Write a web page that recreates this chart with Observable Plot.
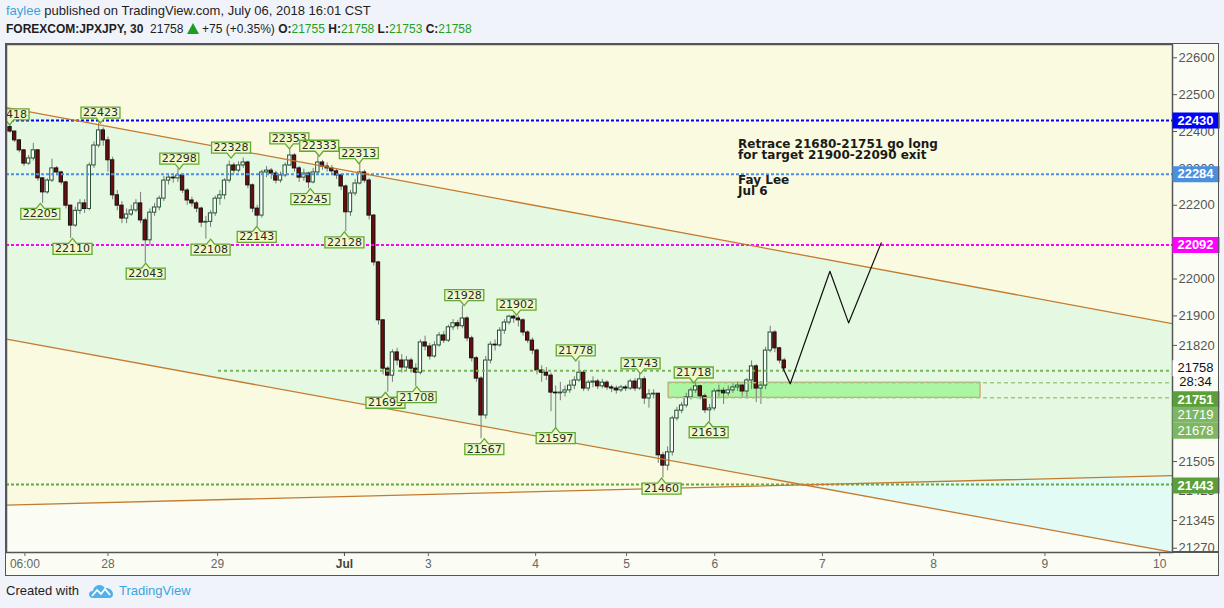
<!DOCTYPE html>
<html>
<head>
<meta charset="utf-8">
<script src="https://cdn.jsdelivr.net/npm/d3@7"></script>
<script src="https://cdn.jsdelivr.net/npm/@observablehq/plot@0.6"></script>
<style>
html,body{margin:0;padding:0}
body{width:1224px;height:608px;background:#f0f3fa;position:relative;overflow:hidden;font-family:"Liberation Sans",Arial,sans-serif;color:#1e1e1e}
.hdr{position:absolute;left:6px;white-space:nowrap;font-size:13px;line-height:16px}
#hdr1{top:3px}
#hdr2{top:21px;font-size:12px}
.user{color:#3ca3df}
.g{color:#22a022}
#chart{position:absolute;left:5px;top:43px}
#box{position:absolute;left:5px;top:43px;width:1214px;height:533px;border:1.5px solid #555;box-sizing:border-box;pointer-events:none}
#ext{position:absolute;left:1172px;top:551px;width:46px;height:1.5px;background:#555}
#footer{position:absolute;left:6px;top:583px;font-size:13px;line-height:16px;white-space:nowrap;display:flex;align-items:center}
#footer .tv{color:#3aa5e0}
</style>
</head>
<body>
<div id="hdr1" class="hdr"></div>
<div id="hdr2" class="hdr"></div>
<div id="chart"></div>
<div id="box"></div>
<div id="ext"></div>
<div id="footer"><span>Created with</span>
<svg width="24" height="15" viewBox="0 0 24 15" style="margin:0 6px 0 10px"><path d="M4 14 C1 14 0 12 0 10 C0 8 2 6.5 4 7 C4.5 3.5 7 1 10.5 1 C13 1 15 2.5 16 4.5 C17 4 18 4 19 4.3 C22 5 24 7.5 24 10.5 C24 12.5 22.5 14 20.5 14 Z" fill="#4fb3ea"/><polyline points="3,12 8,6 12,10 16,5 21,11" fill="none" stroke="#fff" stroke-width="1.8"/></svg>
<span class="tv">TradingView</span></div>
<script>
// ---------- header values ----------
const author = "faylee";
const published = "published on TradingView.com, July 06, 2018 16:01 CST";
const symbol = "FOREXCOM:JPXJPY, 30";
const lastPrice = 21758;
const change = "+75 (+0.35%)";
const ohlcNames = ["O:", "H:", "L:", "C:"];
const ohlcValues = [21755, 21758, 21753, 21758];

// ---------- candles (hourly) ----------
const firstOpen = 22412;
const closes = [22400,22376,22349,22313,22327,22349,22273,22235,22267,22300,22289,22262,22199,22145,22185,22205,22190,22308,22362,22403,
22376,22322,22227,22199,22164,22175,22186,22205,22159,22105,22180,22194,22218,22267,22275,22273,22281,22240,22213,22205,
22191,22153,22155,22178,22218,22227,22267,22308,22294,22308,22316,22254,22191,22172,22289,22294,22286,22267,22281,22308,
22335,22300,22275,22286,22262,22289,22316,22305,22300,22292,22281,22251,22181,22232,22259,22289,22267,22172,22045,21888,
21757,21738,21801,21779,21760,21779,21757,21746,21828,21817,21790,21820,21847,21833,21869,21880,21872,21893,21839,21785,
21730,21630,21779,21822,21820,21860,21882,21898,21893,21888,21855,21833,21806,21752,21746,21738,21692,21690,21692,21698,
21711,21725,21746,21703,21719,21722,21709,21719,21706,21703,21698,21706,21703,21722,21703,21728,21676,21687,21689,21522,
21494,21530,21622,21643,21657,21679,21698,21709,21682,21644,21649,21695,21697,21690,21698,21706,21711,21695,21725,21763,
21703,21711,21806,21855,21812,21779,21758];
const highs = [22418,22400,22378,22350,22335,22368,22350,22275,22272,22325,22305,22292,22265,22200,22195,22215,22215,22315,22372,22423,
22410,22385,22330,22240,22210,22190,22200,22215,22235,22165,22190,22205,22225,22278,22285,22285,22298,22285,22245,22222,
22210,22195,22170,22185,22225,22240,22272,22320,22315,22318,22328,22320,22258,22200,22295,22305,22300,22292,22290,22315,
22353,22340,22305,22298,22290,22300,22333,22322,22315,22308,22298,22285,22255,22240,22270,22313,22295,22272,22175,22048,
21890,21762,21808,21812,21795,21790,21785,21770,21835,21845,21825,21830,21855,21858,21875,21890,21888,21928,21898,21845,
21790,21735,21790,21830,21835,21868,21890,21902,21902,21900,21892,21860,21840,21810,21765,21760,21745,21710,21720,21710,
21725,21735,21778,21752,21725,21735,21728,21728,21724,21712,21710,21712,21712,21728,21730,21743,21735,21700,21700,21690,
21530,21545,21628,21652,21665,21690,21705,21718,21712,21688,21660,21702,21712,21705,21710,21716,21720,21715,21730,21778,
21768,21722,21815,21872,21860,21815,21785];
const lows = [22395,22370,22342,22305,22308,22320,22265,22205,22230,22262,22280,22255,22190,22110,22140,22175,22178,22185,22300,22355,
22360,22290,22215,22185,22150,22150,22170,22180,22150,22043,22090,22170,22185,22210,22255,22260,22262,22232,22200,22195,
22180,22140,22108,22140,22170,22200,22215,22260,22285,22288,22300,22245,22180,22143,22165,22275,22270,22258,22260,22275,
22305,22290,22262,22265,22245,22258,22285,22295,22290,22282,22270,22240,22128,22170,22225,22255,22260,22160,22035,21875,
21740,21693,21720,21765,21745,21750,21745,21708,21740,21805,21780,21785,21815,21825,21828,21860,21862,21865,21830,21775,
21720,21567,21620,21770,21805,21815,21850,21875,21880,21870,21845,21825,21795,21740,21720,21725,21640,21597,21670,21680,
21690,21700,21720,21695,21695,21705,21700,21702,21698,21692,21688,21692,21695,21698,21695,21698,21660,21650,21675,21500,
21460,21480,21520,21615,21635,21650,21672,21690,21672,21635,21613,21642,21680,21660,21682,21690,21695,21680,21675,21700,
21665,21660,21700,21800,21800,21770,21753];

// ---------- axes ----------
const timeTickPos = [3.2, 21.0, 44.5, 71.7, 89.7, 112.7, 132.2, 151.1, 174.2, 198.0, 221.9, 246.5];
const timeTickLabels = ["06:00", "28", "29", "Jul", "3", "4", "5", "6", "7", "8", "9", "10"];
const priceTicks = [22600, 22500, 22400, 22300, 22200, 22000, 21900, 21820, 21505, 21425, 21345, 21270];

// ---------- high / low callouts ----------
const calloutX = [-0.1, 19.4, 6.5, 13.4, 29.1, 36.3, 43.0, 47.4, 52.9, 59.9, 64.4, 66.3, 74.8, 71.7, 80.5, 87.2, 97.4, 101.7, 108.6, 117.0, 121.3, 135.2, 139.7, 146.6, 149.8];
const calloutPrice = [22418, 22423, 22205, 22110, 22043, 22298, 22108, 22328, 22143, 22353, 22245, 22333, 22313, 22128, 21693, 21708, 21928, 21567, 21902, 21597, 21778, 21743, 21460, 21718, 21613];
const calloutSide = ["H","H","L","L","L","H","L","H","L","H","L","H","H","L","L","L","H","L","H","L","H","H","L","H","L"];

// ---------- drawings ----------
const lineX = [-0.75, 249.25];
const upperY = [22465, 21879];
const lowerY = [21837, 21259];
const risingY = [21387, 21467];
const zoneX = [141.2, 208.1];
const zoneY = [21678, 21719];
const levelPrices = [22430, 22284, 22092, 21751, 21443];
const levelFromX = [-0.75, -0.75, -0.75, 44.7, -0.75];
const projX = [165.6, 167.3, 175.8, 179.8, 186.8];
const projY = [21762, 21716, 22021, 21881, 22098];
const noteX = [156.1, 156.1];
const noteY = [22378, 22280];
const noteText = ["Retrace 21680-21751 go long\nfor target 21900-22090 exit", "Fay Lee\nJul 6"];
const tagPrices = [22430, 22284, 22092, 21758, 21751, 21719, 21678, 21443];
const countdown = "28:34";

// ---------- header ----------
document.getElementById("hdr1").innerHTML = `<span class="user">${author}</span> ${published}`;
document.getElementById("hdr2").innerHTML =
  `<b>${symbol}</b>&nbsp; ${lastPrice} <svg width="12" height="11" viewBox="0 0 12 11" style="vertical-align:-1px"><polygon points="6,0 12,11 0,11" fill="#1e9e1e"/></svg> ${change} ` +
  ohlcNames.map((n, i) => `<b>${n}</b><span class="g">${ohlcValues[i]}</span>`).join(" ");

// ---------- scales ----------
const xDomain = [-0.75, 249.25];
const yDomain = [21258.4, 22636];
const yTop = yDomain[1];

const candles = closes.map((c, i) => ({i, o: i === 0 ? firstOpen : closes[i - 1], c, h: highs[i], l: lows[i]}));
const up = candles.filter(d => d.c >= d.o);
const down = candles.filter(d => d.c < d.o);

const yellowData = lineX.map((x, i) => ({x, a: risingY[i], b: yTop}));
const channelData = lineX.map((x, i) => ({x, a: lowerY[i], b: upperY[i]}));
const sLow = (lowerY[1] - lowerY[0]) / (lineX[1] - lineX[0]);
const sRise = (risingY[1] - risingY[0]) / (lineX[1] - lineX[0]);
const xCross = lineX[0] + (risingY[0] - lowerY[0]) / (sLow - sRise);
const pCross = lowerY[0] + sLow * (xCross - lineX[0]);
const cyanData = [{x: xCross, a: pCross, b: pCross}, {x: lineX[1], a: lowerY[1], b: risingY[1]}];

const bubbleDown = {draw(ctx) { ctx.moveTo(0, 0); ctx.lineTo(-4, -5); ctx.lineTo(-19.5, -5); ctx.lineTo(-19.5, -16); ctx.lineTo(19.5, -16); ctx.lineTo(19.5, -5); ctx.lineTo(4, -5); ctx.closePath(); }};
const bubbleUp = {draw(ctx) { ctx.moveTo(0, 0); ctx.lineTo(4, 5); ctx.lineTo(19.5, 5); ctx.lineTo(19.5, 16); ctx.lineTo(-19.5, 16); ctx.lineTo(-19.5, 5); ctx.lineTo(-4, 5); ctx.closePath(); }};
const tagBox = {draw(ctx) { ctx.rect(0, -8, 47, 16); }};

const levelStyles = [
  {stroke: "#0000ff", strokeWidth: 2, strokeDasharray: "3,2"},
  {stroke: "#4a8fe0", strokeWidth: 2, strokeDasharray: "3,2"},
  {stroke: "#ff00ff", strokeWidth: 2, strokeDasharray: "3,2"},
  {stroke: "#74b659", strokeWidth: 2, strokeDasharray: "3,3"},
  {stroke: "#62a846", strokeWidth: 2, strokeDasharray: "3,2"}
];
const tagStyles = [
  {bg: "#0000ff", fg: "#ffffff", dy: 0, bold: true},
  {bg: "#4a8fe0", fg: "#ffffff", dy: 0, bold: true},
  {bg: "#ff00ff", fg: "#ffffff", dy: 0, bold: true},
  {bg: "#ffffff", fg: "#111111", dy: 0, bold: false},
  {bg: "#5b9f3b", fg: "#ffffff", dy: 28.5, bold: true},
  {bg: "#7db763", fg: "#ffffff", dy: 32, bold: false},
  {bg: "#7db763", fg: "#ffffff", dy: 33, bold: false},
  {bg: "#5b9f3b", fg: "#ffffff", dy: 1, bold: true}
];

const calloutMarks = calloutX.flatMap((x, i) => {
  const hi = calloutSide[i] === "H";
  return [
    Plot.dot([0], {x: [x], y: [calloutPrice[i]], symbol: hi ? bubbleDown : bubbleUp, fill: "#eff9c9", stroke: "#62a832", strokeWidth: 1.3, clip: true}),
    Plot.text([0], {x: [x], y: [calloutPrice[i]], text: [String(calloutPrice[i])], dy: hi ? -10.5 : 10.5, fontSize: 11, fontFamily: "DejaVu Sans", fill: "#2a2a2a", clip: true})
  ];
});

const tagMarks = tagPrices.flatMap((p, i) => {
  const s = tagStyles[i];
  return [
    Plot.dot([0], {y: [p], frameAnchor: "right", symbol: tagBox, fill: s.bg, stroke: "none", dy: s.dy}),
    Plot.text([0], {y: [p], frameAnchor: "right", textAnchor: "middle", text: [String(p)], dx: 23, dy: s.dy, fill: s.fg, fontSize: 13, fontWeight: s.bold ? "bold" : "normal", fontFamily: "Liberation Sans"})
  ];
});

const tickNoJul = timeTickPos.filter((d, i) => timeTickLabels[i] !== "Jul");
const tickJul = timeTickPos.filter((d, i) => timeTickLabels[i] === "Jul");
const fmtTime = d => timeTickLabels[timeTickPos.indexOf(d)];

const chart = Plot.plot({
  width: 1214, height: 533,
  marginLeft: 1, marginRight: 47, marginTop: 1, marginBottom: 24,
  x: {domain: xDomain, axis: null},
  y: {domain: yDomain, axis: null},
  style: {background: "#fbfcf3", fontFamily: "Liberation Sans", overflow: "visible"},
  marks: [
    Plot.areaY(yellowData, {x: "x", y1: "a", y2: "b", fill: "#f9fadf"}),
    Plot.areaY(channelData, {x: "x", y1: "a", y2: "b", fill: "#e5f9e2"}),
    Plot.areaY(cyanData, {x: "x", y1: "a", y2: "b", fill: "#e3fbf5"}),
    Plot.rect([0], {x1: [zoneX[0]], x2: [zoneX[1]], y1: [zoneY[0]], y2: [zoneY[1]], fill: "#aaf6a3", stroke: "#d08c5a", strokeWidth: 1}),
    Plot.ruleX(candles, {x: "i", y1: "l", y2: "h", stroke: "#7a7a7a", strokeWidth: 1}),
    Plot.rect(up, {x1: d => d.i - 0.36, x2: d => d.i + 0.36, y1: "o", y2: "c", fill: "#ffffff", stroke: "#1f4f2f", strokeWidth: 1}),
    Plot.rect(down, {x1: d => d.i - 0.36, x2: d => d.i + 0.36, y1: "o", y2: "c", fill: "#6e0b0b", stroke: "#111111", strokeWidth: 1}),
    ...levelPrices.map((p, i) => Plot.ruleY([p], {x1: levelFromX[i], x2: xDomain[1], ...levelStyles[i]})),
    ...zoneY.map(p => Plot.ruleY([p], {x1: zoneX[0], x2: xDomain[1], stroke: "#9cc88a", strokeWidth: 1.5, strokeDasharray: "4,3"})),
    Plot.line(lineX.map((x, i) => ({x, y: upperY[i]})), {x: "x", y: "y", stroke: "#c47a30", strokeWidth: 1.3, clip: true}),
    Plot.line(lineX.map((x, i) => ({x, y: lowerY[i]})), {x: "x", y: "y", stroke: "#c47a30", strokeWidth: 1.3, clip: true}),
    Plot.line(lineX.map((x, i) => ({x, y: risingY[i]})), {x: "x", y: "y", stroke: "#c47a30", strokeWidth: 1.3, clip: true}),
    Plot.line(projX.map((x, i) => ({x, y: projY[i]})), {x: "x", y: "y", stroke: "#111111", strokeWidth: 1.2}),
    ...calloutMarks,
    Plot.text(noteText, {x: (d, i) => noteX[i], y: (d, i) => noteY[i], text: d => d, textAnchor: "start", lineAnchor: "top", fontFamily: "DejaVu Sans", fontWeight: "bold", fontSize: 12, lineHeight: 0.94, fill: "#1a1a1a"}),
    Plot.frame({stroke: "#555", strokeWidth: 1.5}),
    Plot.axisY(priceTicks, {anchor: "right", tickSize: 4, tickPadding: 2, fontSize: 13, color: "#555", tickFormat: d => String(d)}),
    ...tagMarks,
    Plot.text([countdown], {y: [lastPrice], frameAnchor: "right", textAnchor: "middle", text: d => d, dx: 23, dy: 13.5, fill: "#111", fontSize: 13}),
    Plot.axisX(tickNoJul, {anchor: "bottom", tickSize: 4, tickPadding: 3, fontSize: 12, color: "#666", tickFormat: fmtTime}),
    Plot.axisX(tickJul, {anchor: "bottom", tickSize: 4, tickPadding: 3, fontSize: 12, color: "#444", fontWeight: "bold", tickFormat: fmtTime})
  ]
});
document.getElementById("chart").appendChild(chart);

// clip the price axis to the plot height (the time-axis band hides the lowest label)
const ns = "http://www.w3.org/2000/svg";
const defs = document.createElementNS(ns, "defs");
const cp = document.createElementNS(ns, "clipPath");
cp.setAttribute("id", "yclip");
const cr = document.createElementNS(ns, "rect");
cr.setAttribute("x", 0); cr.setAttribute("y", 0); cr.setAttribute("width", 1214); cr.setAttribute("height", 509);
cp.appendChild(cr); defs.appendChild(cp); chart.insertBefore(defs, chart.firstChild);
const wrap = document.createElementNS(ns, "g");
wrap.setAttribute("clip-path", "url(#yclip)");
const yGroups = chart.querySelectorAll('g[aria-label="y-axis tick"], g[aria-label="y-axis tick label"]');
if (yGroups.length) {
  yGroups[0].parentNode.insertBefore(wrap, yGroups[0]);
  yGroups.forEach(g => wrap.appendChild(g));
}
</script>
</body>
</html>
